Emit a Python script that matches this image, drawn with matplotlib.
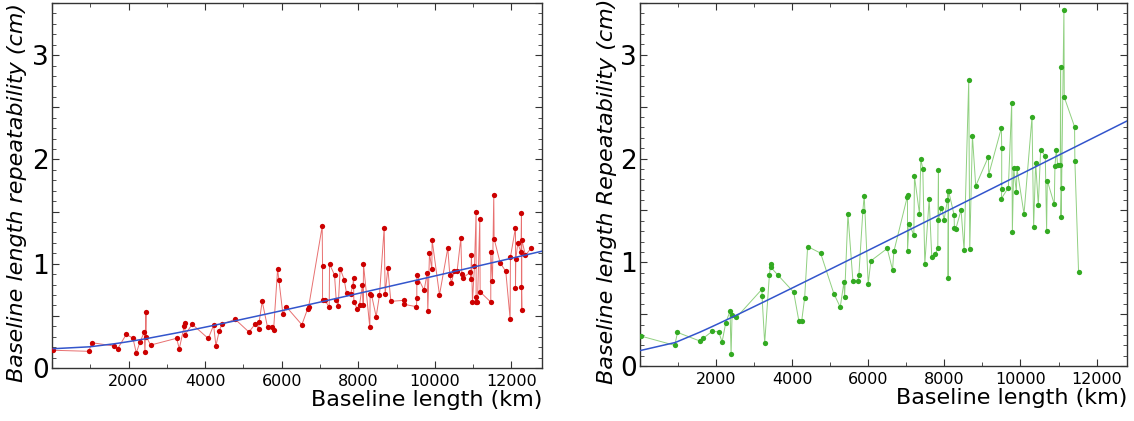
"""
Baseline length repeatability vs baseline length, two panels
"""

import matplotlib
matplotlib.use("Agg")
import matplotlib.pyplot as plt
import numpy as np
from matplotlib.ticker import MultipleLocator, FuncFormatter

# left panel (red): baseline length (km), repeatability (cm)
left_x = [35, 966, 1036, 1619, 1715, 1941, 2115, 2202, 2298, 2410, 2428, 2454, 2463, 2577,
          3255, 3325, 3455, 3473, 3473, 3664, 4082, 4221, 4282, 4369, 4439, 4786, 5144, 5309,
          5396, 5413, 5491, 5631, 5753, 5788, 5893, 5927, 6031, 6118, 6527, 6676, 6702, 7058,
          7067, 7067, 7128, 7241, 7250, 7380, 7424, 7476, 7528, 7633, 7694, 7798, 7859, 7877,
          7885, 7972, 8033, 8111, 8129, 8137, 8302, 8311, 8346, 8468, 8555, 8677, 8703, 8773,
          8851, 9199, 9199, 9521, 9530, 9530, 9530, 9721, 9800, 9817, 9861, 9922, 9930, 10122,
          10339, 10391, 10435, 10505, 10583, 10679, 10705, 10740, 10922, 10940, 10957, 10983,
          11036, 11079, 11079, 11088, 11114, 11175, 11184, 11462, 11462, 11506, 11540, 11549,
          11706, 11854, 11967, 11975, 12107, 12107, 12116, 12167, 12254, 12263, 12263, 12272,
          12272, 12367, 12515]
left_y = [0.17, 0.16, 0.243, 0.211, 0.185, 0.323, 0.285, 0.144, 0.249, 0.345, 0.15, 0.534, 0.30, 0.22,
          0.285, 0.185, 0.403, 0.428, 0.32, 0.419, 0.283, 0.41, 0.214, 0.355, 0.419, 0.467, 0.345, 0.422,
          0.377, 0.444, 0.639, 0.39, 0.396, 0.364, 0.946, 0.844, 0.518, 0.588, 0.415, 0.566, 0.582, 1.358,
          0.978, 0.649, 0.649, 0.585, 0.997, 0.892, 0.652, 0.591, 0.952, 0.847, 0.716, 0.71, 0.789, 0.863,
          0.633, 0.569, 0.604, 0.799, 0.604, 0.994, 0.39, 0.706, 0.703, 0.492, 0.70, 1.342, 0.712, 0.956,
          0.639, 0.649, 0.61, 0.588, 0.674, 0.821, 0.888, 0.745, 0.911, 0.546, 1.10, 0.946, 1.227, 0.70,
          1.15, 0.895, 0.818, 0.93, 0.93, 1.243, 0.904, 0.866, 0.917, 0.85, 1.08, 0.632,
          0.975, 1.499, 0.632, 0.684, 0.632, 1.426, 0.73, 0.632, 1.112, 0.837, 1.662, 1.24,
          1.01, 0.926, 0.473, 1.061, 1.345, 0.764, 1.048, 1.195, 1.109, 1.489, 0.774, 0.559,
          1.23, 1.08, 1.15]

# right panel (green)
right_x = [20, 915, 985, 1571, 1668, 1895, 2070, 2157, 2254, 2367, 2394, 2420, 2534, 3207, 3207,
           3277, 3400, 3435, 3435, 3619, 4039, 4178, 4248, 4327, 4406, 4747, 5097, 5263, 5360, 5377,
           5465, 5596, 5727, 5753, 5858, 5893, 5998, 6068, 6497, 6637, 6672, 7022, 7031, 7031, 7074,
           7197, 7214, 7346, 7381, 7433, 7486, 7600, 7669, 7766, 7827, 7844, 7844, 7923, 7993, 8080,
           8098, 8098, 8110, 8255, 8264, 8299, 8439, 8518, 8640, 8667, 8737, 8824, 9157, 9165, 9498,
           9507, 9507, 9498, 9682, 9769, 9787, 9822, 9892, 9909, 10093, 10303, 10346, 10399, 10469,
           10530, 10652, 10687, 10705, 10889, 10906, 10941, 10976, 11046, 11055, 11064, 11081, 11142,
           11151, 11422, 11430, 11527]
right_y = [0.289, 0.199, 0.324, 0.241, 0.269, 0.334, 0.330, 0.231, 0.417, 0.529, 0.112, 0.494, 0.468, 0.741, 0.674,
           0.221, 0.873, 0.985, 0.953, 0.879, 0.712, 0.43, 0.43, 0.654, 1.152, 1.088, 0.696, 0.568, 0.808, 0.664,
           1.463, 0.821, 0.818, 0.879, 1.498, 1.643, 0.792, 1.014, 1.133, 0.927, 1.104, 1.627, 1.652, 1.113, 1.373,
           1.261, 1.829, 1.466, 1.992, 1.902, 0.985, 1.611, 1.049, 1.081, 1.139, 1.893, 1.412, 1.527, 1.412, 1.598,
           1.691, 0.847, 1.69, 1.457, 1.331, 1.319, 1.505, 1.116, 2.753, 1.126, 2.220, 1.736, 2.018, 1.845, 2.294,
           2.105, 1.704, 1.614, 1.72, 2.535, 1.296, 1.906, 1.678, 1.906, 1.466, 2.4, 1.341, 1.960, 1.550,
           2.082, 2.028, 1.306, 1.787, 1.559, 1.928, 2.085, 1.941, 1.941, 2.887, 1.434, 1.713, 3.433,
           2.592, 2.307, 1.976, 0.905]

# fitted model sigma = sqrt(a^2 + (b*L)^2)
left_fit = (0.185, 8.63e-5)
right_fit = (0.15, 1.842e-4)

x_max = 12800
y_max = 3.5


def model(L, a, b):
    return np.sqrt(a**2 + (b * L)**2)


def panel(ax, xs, ys, fit, dot_color, line_color, ylabel, label_x):
    xs = np.array(xs)
    ys = np.array(ys)
    ax.plot(xs, ys, color=line_color, linewidth=0.7, zorder=2)
    ax.plot(xs, ys, 'o', color=dot_color, markersize=3.8, markeredgewidth=0, zorder=3)
    fx = np.append(xs, x_max)
    ax.plot(fx, model(fx, *fit), color='#3355cc', linewidth=1.1, zorder=4)

    ax.set_xlim(0, x_max)
    ax.set_ylim(0, y_max)
    ax.xaxis.set_major_locator(MultipleLocator(2000))
    ax.xaxis.set_minor_locator(MultipleLocator(1000))
    ax.yaxis.set_major_locator(MultipleLocator(0.5))
    ax.yaxis.set_minor_locator(MultipleLocator(0.1))
    ax.xaxis.set_major_formatter(FuncFormatter(lambda v, p: '' if v == 0 else '%d' % v))
    ax.yaxis.set_major_formatter(FuncFormatter(lambda v, p: '%d' % v if v == int(v) else ''))
    ax.tick_params(which='both', direction='in', top=True, right=True, color='#333333')
    ax.tick_params(which='major', length=5, width=0.8)
    ax.tick_params(which='minor', length=3, width=0.6)
    ax.tick_params(axis='x', labelsize=11.5, pad=4)
    ax.tick_params(axis='y', labelsize=19, pad=2)
    for s in ax.spines.values():
        s.set_color('#333333')
        s.set_linewidth(1.0)

    ax.set_xlabel('Baseline length (km)', fontsize=16, loc='right', labelpad=1)
    ax.set_ylabel(ylabel, fontsize=16, style='italic')
    ax.yaxis.set_label_coords(label_x, 0.48)


def main():
    fig = plt.figure(figsize=(11.34, 4.21), dpi=100)
    ax1 = fig.add_axes([52 / 1134, 53 / 421, 490 / 1134, 365 / 421])
    ax2 = fig.add_axes([640 / 1134, 55 / 421, 487 / 1134, 363 / 421])

    panel(ax1, left_x, left_y, left_fit, '#cc0000', '#e87070',
          'Baseline length repeatability (cm)', -0.05)
    panel(ax2, right_x, right_y, right_fit, '#33aa22', '#90d080',
          'Baseline length Repeatability (cm)', -0.048)

    fig.savefig('out.png', dpi=100)


if __name__ == "__main__":
    main()
